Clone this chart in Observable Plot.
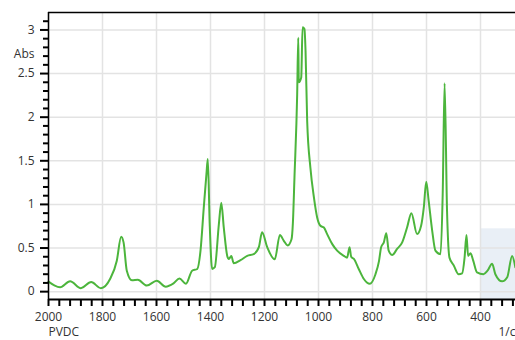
<!DOCTYPE html>
<html>
<head>
<meta charset="utf-8">
<script src="https://cdn.jsdelivr.net/npm/d3@7"></script>
<script src="https://cdn.jsdelivr.net/npm/@observablehq/plot@0.6"></script>
<style>
  html, body { margin: 0; padding: 0; background: #fff; overflow: hidden; width: 515px; height: 340px; }
</style>
</head>
<body>
<div id="chart"></div>
<script>
// Wavenumber (1/cm) and absorbance
const wavenumbers = [
  2000, 1980, 1957, 1920, 1880, 1842, 1806, 1772, 1747, 1731, 1722, 1710, 1691, 1669, 1636,
  1599, 1566, 1537, 1515, 1491, 1468, 1449, 1437, 1425, 1415, 1410, 1403, 1394, 1384, 1369,
  1360, 1351, 1338, 1332, 1323, 1314, 1289, 1264, 1240, 1221, 1209, 1190, 1162, 1143, 1129,
  1114, 1100, 1095, 1089, 1079, 1075, 1073, 1064, 1059, 1052, 1048, 1042, 1030, 1017, 1005,
  993, 980, 968, 949, 931, 906, 894, 885, 879, 869, 851, 832, 810, 789, 776,
  768, 758, 749, 740, 727, 709, 690, 672, 656, 635, 620, 610, 601, 592, 579,
  567, 548, 540, 533, 524, 515, 499, 481, 468, 459, 452, 446, 437, 427, 413,
  389, 374, 357, 345, 320, 301, 283, 271
];
const absorbance = [
  0.115, 0.075, 0.05, 0.12, 0.04, 0.11, 0.04, 0.145, 0.355, 0.63, 0.565, 0.24, 0.13, 0.135, 0.07,
  0.125, 0.057, 0.095, 0.15, 0.09, 0.24, 0.26, 0.47, 0.96, 1.35, 1.52, 0.78, 0.26, 0.28, 0.775,
  1.02, 0.74, 0.41, 0.375, 0.41, 0.325, 0.36, 0.41, 0.43, 0.51, 0.68, 0.51, 0.37, 0.65, 0.585,
  0.53, 0.6, 0.78, 1.31, 2.26, 2.91, 2.4, 2.455, 3.03, 3.01, 2.76, 1.96, 1.42, 1.08, 0.85,
  0.755, 0.735, 0.66, 0.545, 0.47, 0.41, 0.39, 0.51, 0.40, 0.375, 0.26, 0.145, 0.09, 0.2, 0.35,
  0.51, 0.565, 0.67, 0.47, 0.42, 0.49, 0.565, 0.735, 0.90, 0.66, 0.755, 0.965, 1.26, 1.04, 0.70,
  0.47, 0.43, 1.12, 2.39, 0.93, 0.39, 0.30, 0.20, 0.21, 0.39, 0.65, 0.41, 0.44, 0.355, 0.22,
  0.20, 0.24, 0.32, 0.20, 0.118, 0.165, 0.41, 0.28
];

const xTicks = [2000, 1800, 1600, 1400, 1200, 1000, 800, 600, 400];
const xMinorTicks = [1960, 1920, 1880, 1840, 1760, 1720, 1680, 1640, 1560, 1520, 1480, 1440,
  1360, 1320, 1280, 1240, 1160, 1120, 1080, 1040, 960, 920, 880, 840, 760, 720, 680, 640,
  560, 520, 480, 440, 360, 320, 280];
const yTicks = [0, 0.5, 1, 1.5, 2, 2.5, 3];
const yMinorTicks = [0.1, 0.2, 0.3, 0.4, 0.6, 0.7, 0.8, 0.9, 1.1, 1.2, 1.3, 1.4, 1.6, 1.7, 1.8, 1.9,
  2.1, 2.2, 2.3, 2.4, 2.6, 2.7, 2.8, 2.9, 3.1];

const xDomain = [2000, 270.4];
const yDomain = [-0.09, 3.2];

// highlighted range (from 400 1/cm to the end, up to ~0.72 Abs)
const shadeX = [400, 270.4];
const shadeTop = 0.72;

const seriesLabel = "PVDC";
const xUnit = "1/cm";
const yUnit = "Abs";

const data = wavenumbers.map((w, i) => ({w, a: absorbance[i]})).sort((p, q) => p.w - q.w);

const chart = Plot.plot({
  width: 515,
  height: 340,
  marginLeft: 48,
  marginRight: 0,
  marginTop: 12,
  marginBottom: 41,
  x: {domain: xDomain, axis: null},
  y: {domain: yDomain, axis: null},
  style: {fontFamily: "'Open Sans', sans-serif", fontSize: "12px", color: "#333", background: "#fff", overflow: "visible"},
  marks: [
    Plot.rect([{x1: shadeX[0], x2: shadeX[1], y1: yDomain[0], y2: shadeTop}],
      {x1: "x1", x2: "x2", y1: "y1", y2: "y2", fill: "#e9eff6"}),
    Plot.gridX(xTicks, {stroke: "#e3e3e3", strokeOpacity: 1, strokeWidth: 1.5}),
    Plot.gridY(yTicks, {stroke: "#e3e3e3", strokeOpacity: 1, strokeWidth: 1.5}),
    Plot.line(data, {x: "w", y: "a", stroke: "#4cb53c", strokeWidth: 2, curve: "monotone-x"}),
    Plot.ruleY([yDomain[1]], {stroke: "#000", strokeWidth: 1.5}),
    Plot.ruleX([xDomain[0]], {stroke: "#000", strokeWidth: 1.5}),
    Plot.ruleY([yDomain[0]], {stroke: "#000", strokeWidth: 2}),
    Plot.axisX(xTicks, {anchor: "bottom", tickSize: 7, tickPadding: 6, strokeWidth: 2, stroke: "#000", fill: "#333", tickFormat: d => String(d)}),
    Plot.axisX(xMinorTicks, {anchor: "bottom", tickSize: 7, strokeWidth: 2, stroke: "#000", tickFormat: () => ""}),
    Plot.axisY(yTicks, {anchor: "left", tickSize: 8, tickPadding: 6, strokeWidth: 2, stroke: "#000", fill: "#333", tickFormat: d => String(d)}),
    Plot.axisY(yMinorTicks, {anchor: "left", tickSize: 5, strokeWidth: 2, stroke: "#000", tickFormat: () => ""}),
    Plot.text([yUnit], {frameAnchor: "top-left", dx: -14, dy: 37, textAnchor: "end", fill: "#333"}),
    Plot.text([seriesLabel], {frameAnchor: "bottom-left", dx: 0, dy: 36, textAnchor: "start", fill: "#333"}),
    Plot.text([xUnit], {frameAnchor: "bottom-right", dx: -17, dy: 36, textAnchor: "start", fill: "#333"})
  ]
});
document.getElementById("chart").appendChild(chart);
</script>
</body>
</html>
